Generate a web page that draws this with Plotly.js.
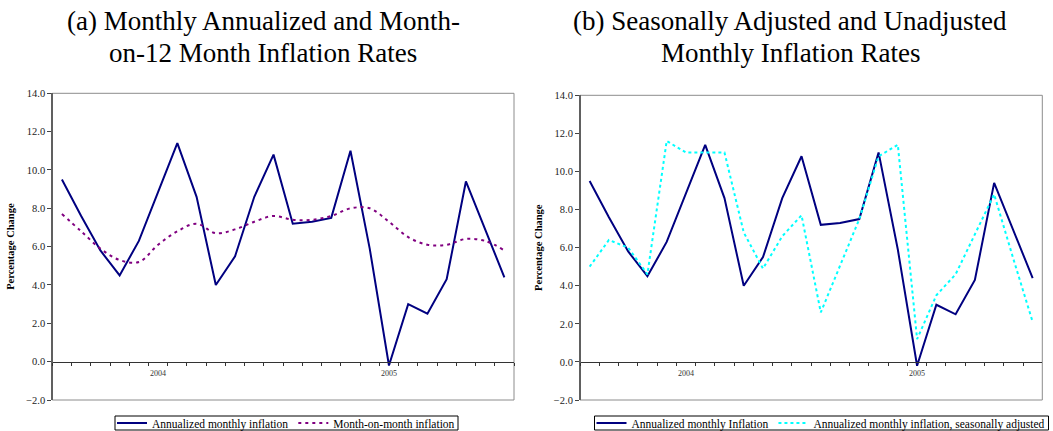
<!DOCTYPE html>
<html>
<head>
<meta charset="utf-8">
<script src="https://cdn.plot.ly/plotly-3.0.1.min.js"></script>
<style>
  html, body { margin: 0; padding: 0; background: #fff; }
  #chart { width: 1053px; height: 431px; }
</style>
</head>
<body>
<div id="chart"></div>
<script>
// Monthly observations, August 2003 to July 2005
const months = [
  'Aug 2003', 'Sep 2003', 'Oct 2003', 'Nov 2003', 'Dec 2003',
  'Jan 2004', 'Feb 2004', 'Mar 2004', 'Apr 2004', 'May 2004', 'Jun 2004',
  'Jul 2004', 'Aug 2004', 'Sep 2004', 'Oct 2004', 'Nov 2004', 'Dec 2004',
  'Jan 2005', 'Feb 2005', 'Mar 2005', 'Apr 2005', 'May 2005', 'Jun 2005',
  'Jul 2005'
];

// Only January carries a label: the year
const yearLabels = months.map(m => (m.startsWith('Jan') ? m.slice(4) : ''));

// Annualized monthly inflation (%)
const annualized = [
  9.5, 7.6, 5.8, 4.5, 6.3, 8.9, 11.4, 8.6, 4.0, 5.5, 8.6, 10.8,
  7.2, 7.3, 7.5, 11.0, 5.9, -0.2, 3.0, 2.5, 4.3, 9.4, 6.9, 4.4
];

// Month-on-12-month inflation (%)
const monthOnMonth = [
  7.7, 6.8, 5.9, 5.3, 5.2, 6.1, 6.8, 7.2, 6.7, 6.9, 7.3, 7.6,
  7.4, 7.4, 7.6, 8.0, 8.0, 7.3, 6.5, 6.1, 6.1, 6.4, 6.3, 5.8
];

// Annualized monthly inflation, seasonally adjusted (%)
const seasonallyAdjusted = [
  5.0, 6.4, 6.0, 4.6, 11.6, 11.0, 11.0, 11.0, 6.8, 4.9, 6.6, 7.7,
  2.6, 5.0, 7.5, 10.8, 11.4, 1.2, 3.5, 4.6, 6.7, 8.8, 5.4, 2.1
];

const yRange = [-2, 14];
const serif = '"Liberation Serif", "Times New Roman", serif';

// Panel geometry (paper fractions)
const W = 1053, H = 431;
const panelA = { x: [52.3 / W, 514 / W], y: [1 - 400 / H, 1 - 93.3 / H] };
const panelB = { x: [580 / W, 1042.3 / W], y: [1 - 400 / H, 1 - 95.3 / H] };

// Place the category axis on the y = 0 line
function zeroPosition(dom) {
  const f = (0 - yRange[0]) / (yRange[1] - yRange[0]);
  return dom[0] + f * (dom[1] - dom[0]);
}

function categoryAxis(panel) {
  return {
    domain: panel.x,
    anchor: 'free',
    position: zeroPosition(panel.y),
    type: 'category',
    range: [-0.5, months.length - 0.5],
    tickmode: 'array',
    tickvals: months,
    ticktext: yearLabels,
    tickson: 'boundaries',
    tickangle: 0,
    ticks: 'outside',
    ticklen: 3,
    tickwidth: 1,
    tickcolor: '#333',
    ticklabelstandoff: 3,
    showline: true,
    linecolor: '#333',
    linewidth: 1.5,
    showgrid: false,
    zeroline: false,
    tickfont: { family: serif, size: 8, color: '#333' },
    fixedrange: true
  };
}

function valueAxis(panel) {
  return {
    domain: panel.y,
    anchor: 'free',
    position: panel.x[0],
    range: yRange,
    dtick: 2,
    tick0: 0,
    tickformat: '.1f',
    ticks: 'outside',
    ticklen: 4,
    tickwidth: 1,
    tickcolor: '#444',
    showline: true,
    linecolor: '#606060',
    linewidth: 2,
    showgrid: false,
    zeroline: false,
    tickfont: { family: serif, size: 10.5, color: '#222' },
    title: {
      text: 'Percentage Change',
      font: { family: serif, size: 10.5, color: '#000', weight: 'bold' },
      standoff: 8
    },
    fixedrange: true
  };
}

const traces = [
  {
    x: months, y: annualized, xaxis: 'x', yaxis: 'y',
    type: 'scatter', mode: 'lines',
    name: 'Annualized monthly inflation',
    line: { color: '#000080', width: 2 },
    legend: 'legend'
  },
  {
    x: months, y: monthOnMonth, xaxis: 'x', yaxis: 'y',
    type: 'scatter', mode: 'lines',
    name: 'Month-on-month inflation',
    line: { color: '#800080', width: 2, dash: '3px,4px', shape: 'spline', smoothing: 1 },
    legend: 'legend'
  },
  {
    x: months, y: annualized, xaxis: 'x2', yaxis: 'y2',
    type: 'scatter', mode: 'lines',
    name: 'Annualized monthly Inflation',
    line: { color: '#000080', width: 2 },
    legend: 'legend2'
  },
  {
    x: months, y: seasonallyAdjusted, xaxis: 'x2', yaxis: 'y2',
    type: 'scatter', mode: 'lines',
    name: 'Annualized monthly inflation, seasonally adjusted',
    line: { color: '#00FFFF', width: 2, dash: '3px,3px' },
    legend: 'legend2'
  }
];

// Legends sit in a slim bordered strip under each panel
const legendCenters = [286 / W, 821 / W];
const legendMidY = 423;
const legendHalfHeight = 7;

function legendBox(cx) {
  return {
    orientation: 'h',
    x: cx, xanchor: 'center',
    y: 1 - legendMidY / H, yanchor: 'middle',
    bgcolor: 'rgba(0,0,0,0)',
    borderwidth: 0,
    itemwidth: 30,
    font: { family: serif, size: 11.5, color: '#000' }
  };
}

function frame(xr, yr) {
  return {
    type: 'rect', xref: xr + ' domain', yref: yr + ' domain',
    x0: 0, x1: 1, y0: 0, y1: 1,
    line: { color: '#8c8c8c', width: 1 },
    layer: 'below'
  };
}

function titleLine(text, cx, ypx) {
  return {
    text: text, xref: 'paper', yref: 'paper',
    x: cx, y: 1 - ypx / H, xanchor: 'center', yanchor: 'middle',
    showarrow: false,
    font: { family: serif, size: 27, color: '#000' }
  };
}

const titleA = 263 / W;
const titleB = 790 / W;
const frames = [frame('x', 'y'), frame('x2', 'y2')];

const layout = {
  width: W, height: H,
  margin: { l: 0, r: 0, t: 0, b: 0, autoexpand: false },
  paper_bgcolor: '#fff',
  plot_bgcolor: '#fff',
  font: { family: serif },
  xaxis: categoryAxis(panelA),
  yaxis: valueAxis(panelA),
  xaxis2: categoryAxis(panelB),
  yaxis2: valueAxis(panelB),
  legend: legendBox(legendCenters[0]),
  legend2: legendBox(legendCenters[1]),
  shapes: frames,
  annotations: [
    titleLine('(a) Monthly Annualized and Month-', titleA, 21),
    titleLine('on-12 Month Inflation Rates', titleA, 53),
    titleLine('(b) Seasonally Adjusted and Unadjusted', titleB, 21),
    titleLine('Monthly Inflation Rates', titleB, 53)
  ]
};

Plotly.newPlot('chart', traces, layout, { displayModeBar: false, staticPlot: true })
  .then(gd => {
    // Outline each legend with a thin border hugging its entries
    const host = gd.getBoundingClientRect();
    const bgs = gd.querySelectorAll('g.legend > rect.bg, g.legend2 > rect.bg');
    const borders = Array.from(bgs).map(bg => {
      const r = bg.getBoundingClientRect();
      const left = r.left - host.left + 3;
      const right = r.right - host.left - 2;
      return {
        type: 'rect', xref: 'paper', yref: 'paper',
        x0: left / W, x1: right / W,
        y0: 1 - (legendMidY + legendHalfHeight) / H,
        y1: 1 - (legendMidY - legendHalfHeight) / H,
        line: { color: '#000', width: 1 },
        fillcolor: 'rgba(0,0,0,0)'
      };
    });
    return Plotly.relayout(gd, { shapes: frames.concat(borders) });
  });
</script>
</body>
</html>
